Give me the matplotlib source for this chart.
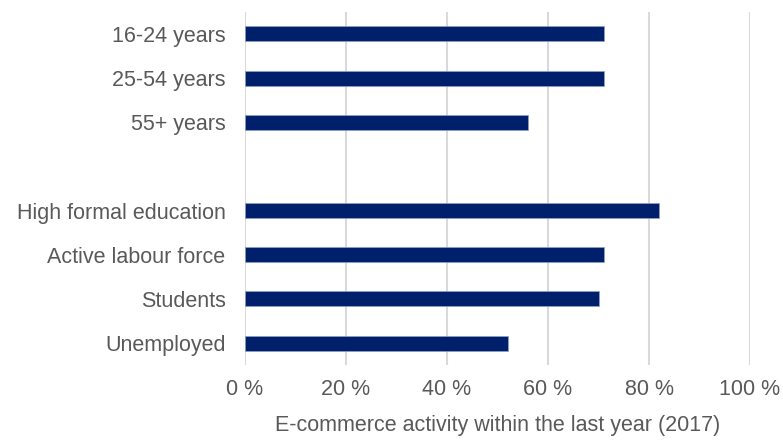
import matplotlib
matplotlib.use('Agg')
import matplotlib.pyplot as plt
from matplotlib.ticker import FuncFormatter

plt.rcParams['font.family'] = ['Liberation Sans', 'DejaVu Sans']

labels = ['16-24 years', '25-54 years', '55+ years', '',
          'High formal education', 'Active labour force', 'Students', 'Unemployed']
values = [71, 71, 56, None, 82, 71, 70, 52]
xticks = [0, 20, 40, 60, 80, 100]

TEXT = '#595959'
FS = 15.5

fig = plt.figure(figsize=(7.83, 4.41), dpi=100)
ax = fig.add_axes([0.3129, 0.172, 0.645, 0.801])

ypos = list(range(len(labels)))
for y, v in zip(ypos, values):
    if v is not None:
        ax.barh(y, v, height=0.34, color='#00206B', edgecolor='#8FA0C8',
                linewidth=0.5, zorder=3)

ax.set_ylim(len(labels) - 0.5, -0.5)
ax.set_xlim(0, 100)
ax.set_yticks(ypos)
ax.set_yticklabels(labels)
ax.set_xticks(xticks)
ax.xaxis.set_major_formatter(FuncFormatter(lambda v, p: '{:.0f} %'.format(v)))

ax.grid(axis='x', color='#D9D9D9', linewidth=1.5, zorder=0)
ax.set_axisbelow(True)
for s in ax.spines.values():
    s.set_visible(False)

ax.tick_params(axis='both', length=0, labelsize=FS, labelcolor=TEXT)
ax.tick_params(axis='y', pad=14)
ax.tick_params(axis='x', pad=10)
ax.set_xlabel('E-commerce activity within the last year (2017)',
              fontsize=FS, color=TEXT, labelpad=11)

fig.savefig('out.png', dpi=100)
